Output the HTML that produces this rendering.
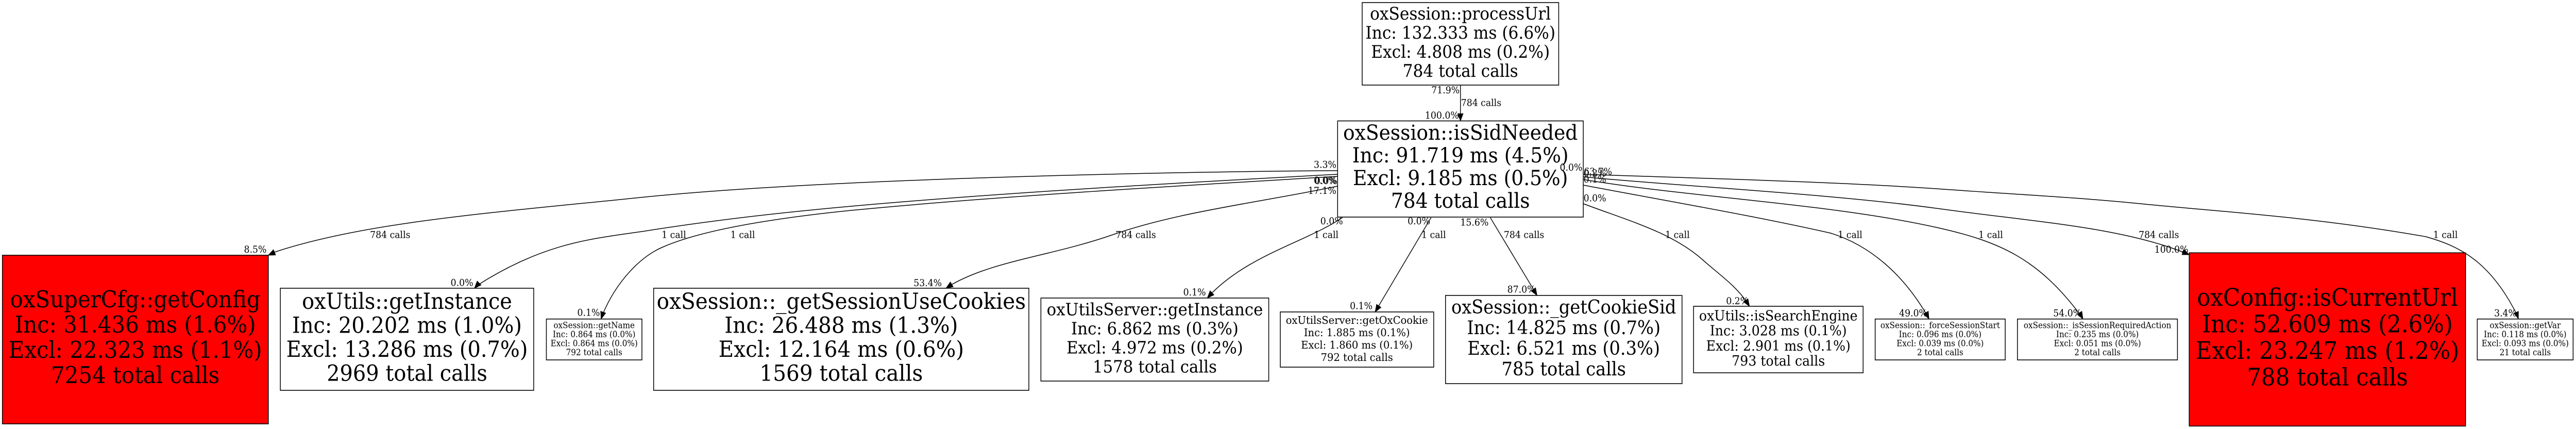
<!DOCTYPE html>
<html><head><meta charset="utf-8"><title>oxSession::isSidNeeded call graph</title>
<style>
html,body{margin:0;padding:0;background:#fff;width:100%;height:100%;overflow:hidden}
svg{display:block;width:100vw;height:100vh}
text{font-family:"DejaVu Serif","Liberation Serif",serif;fill:#000;text-anchor:middle}
.e{font-size:18.5px}
.s{font-size:16.3px}
rect{stroke:#000;stroke-width:1.6;fill:#fff}
path{fill:none;stroke:#000;stroke-width:1.5}
polygon{fill:#000;stroke:#000;stroke-width:1}
</style></head><body>
<svg xmlns="http://www.w3.org/2000/svg" viewBox="0 0 5348 832" preserveAspectRatio="none">

<!-- edges -->
<path d="M3032 165 L3032 222"/>
<path d="M2777 331 C2400 333 1700 348 1340 382 C1030 412 760 430 570 489"/>
<path d="M2777 338 C2500 352 2100 372 1767 400 C1600 414 1460 430 1340 448 C1230 463 1130 470 990 554"/>
<path d="M2777 342 C2500 358 2100 378 1767 408 C1620 422 1460 444 1374 480 C1330 498 1280 545 1251 610"/>
<path d="M2777 361 C2620 392 2450 410 2314 454 C2180 498 2060 505 1970 555"/>
<path d="M2787 422 C2710 470 2590 495 2510 574"/>
<path d="M2971 422 L2858 600"/>
<path d="M3094 422 L3188 568"/>
<path d="M3287 395 C3380 428 3470 450 3535 504 C3570 533 3605 555 3628 588"/>
<path d="M3287 359 C3450 388 3650 420 3800 452 C3880 475 3950 530 4001 612"/>
<path d="M3287 348 C3500 382 3800 395 4020 441 C4150 468 4230 500 4320 612"/>
<path d="M3287 343 C3500 362 3800 376 4020 404 C4220 430 4400 440 4535 490"/>
<path d="M3287 338 C3500 345 3800 352 4020 366 C4200 378 4300 382 4443 395 C4600 410 4800 420 5036 459 C5110 478 5170 510 5223 606"/>

<polygon points="3032,234.5 3026.5,220.5 3037.5,220.5"/>
<polygon points="557,495 572.1,494.5 567.7,484.3"/>
<polygon points="985,559 998.7,552.7 990.7,545.1"/>
<polygon points="1248,618.7 1257.4,607.1 1247,603.7"/>
<polygon points="1964,559 1978.8,556.3 1973,546.9"/>
<polygon points="2506.5,578 2520.3,571.8 2512.3,564"/>
<polygon points="2855,605 2867.1,596.1 2857.9,590.3"/>
<polygon points="3191,573 3188,558.2 3178.8,564.2"/>
<polygon points="3632,594 3628.9,579.4 3619.7,585.4"/>
<polygon points="4004.7,618.7 4003.3,603.7 3993.5,608.7"/>
<polygon points="4324.3,618.7 4322.1,603.8 4312.5,609.3"/>
<polygon points="4545,494 4534,483.7 4530,493.9"/>
<polygon points="5228.3,618.5 5219.5,607.5 5228.5,604"/>

<!-- nodes -->
<rect x="2828" y="5" width="408" height="160"/>
<g font-size="33.4">
<text x="3032" y="38">oxSession::processUrl</text>
<text x="3032" y="75">Inc: 132.333 ms (6.6%)</text>
<text x="3032" y="112">Excl: 4.808 ms (0.2%)</text>
<text x="3032" y="149">784 total calls</text>
</g>

<rect x="2777" y="234.5" width="510" height="186.5"/>
<g font-size="40.2">
<text x="3032" y="271">oxSession::isSidNeeded</text>
<text x="3032" y="315">Inc: 91.719 ms (4.5%)</text>
<text x="3032" y="359">Excl: 9.185 ms (0.5%)</text>
<text x="3032" y="403">784 total calls</text>
</g>

<rect x="5" y="495" width="552" height="327" style="fill:#ff0000"/>
<g font-size="44.8">
<text x="281" y="596">oxSuperCfg::getConfig</text>
<text x="281" y="645">Inc: 31.436 ms (1.6%)</text>
<text x="281" y="694">Excl: 22.323 ms (1.1%)</text>
<text x="281" y="743">7254 total calls</text>
</g>

<rect x="582" y="559" width="526" height="198"/>
<g font-size="42.7">
<text x="845" y="599">oxUtils::getInstance</text>
<text x="845" y="645.5">Inc: 20.202 ms (1.0%)</text>
<text x="845" y="692">Excl: 13.286 ms (0.7%)</text>
<text x="845" y="738.5">2969 total calls</text>
</g>

<rect x="1134.3" y="618.7" width="198.4" height="79.3"/>
<g class="s">
<text x="1233.5" y="636.5">oxSession::getName</text>
<text x="1233.5" y="654">Inc: 0.864 ms (0.0%)</text>
<text x="1233.5" y="671.5">Excl: 0.864 ms (0.0%)</text>
<text x="1233.5" y="689">792 total calls</text>
</g>

<rect x="1357" y="559" width="779" height="198"/>
<g font-size="43.4">
<text x="1746.5" y="599">oxSession::_getSessionUseCookies</text>
<text x="1746.5" y="645.5">Inc: 26.488 ms (1.3%)</text>
<text x="1746.5" y="692">Excl: 12.164 ms (0.6%)</text>
<text x="1746.5" y="738.5">1569 total calls</text>
</g>

<rect x="2161" y="578" width="473" height="161"/>
<g font-size="33">
<text x="2397.5" y="611.5">oxUtilsServer::getInstance</text>
<text x="2397.5" y="648.5">Inc: 6.862 ms (0.3%)</text>
<text x="2397.5" y="685.5">Excl: 4.972 ms (0.2%)</text>
<text x="2397.5" y="722.5">1578 total calls</text>
</g>

<rect x="2658" y="605" width="318.5" height="107"/>
<g font-size="20.9">
<text x="2817" y="628.2">oxUtilsServer::getOxCookie</text>
<text x="2817" y="652.1">Inc: 1.885 ms (0.1%)</text>
<text x="2817" y="676">Excl: 1.860 ms (0.1%)</text>
<text x="2817" y="699.9">792 total calls</text>
</g>

<rect x="3001" y="573" width="491" height="171"/>
<g font-size="36">
<text x="3246.5" y="607.8">oxSession::_getCookieSid</text>
<text x="3246.5" y="647.8">Inc: 14.825 ms (0.7%)</text>
<text x="3246.5" y="687.8">Excl: 6.521 ms (0.3%)</text>
<text x="3246.5" y="727.8">785 total calls</text>
</g>

<rect x="3516" y="594" width="352" height="129"/>
<g font-size="27">
<text x="3692" y="621.3">oxUtils::isSearchEngine</text>
<text x="3692" y="650.6">Inc: 3.028 ms (0.1%)</text>
<text x="3692" y="679.9">Excl: 2.901 ms (0.1%)</text>
<text x="3692" y="709.2">793 total calls</text>
</g>

<rect x="3893" y="618.7" width="270" height="79.3"/>
<g class="s">
<text x="4028" y="636.5">oxSession::_forceSessionStart</text>
<text x="4028" y="654">Inc: 0.096 ms (0.0%)</text>
<text x="4028" y="671.5">Excl: 0.039 ms (0.0%)</text>
<text x="4028" y="689">2 total calls</text>
</g>

<rect x="4188.4" y="618.7" width="332.2" height="79.3"/>
<g class="s">
<text x="4354.5" y="636.5">oxSession::_isSessionRequiredAction</text>
<text x="4354.5" y="654">Inc: 0.235 ms (0.0%)</text>
<text x="4354.5" y="671.5">Excl: 0.051 ms (0.0%)</text>
<text x="4354.5" y="689">2 total calls</text>
</g>

<rect x="4545" y="490.3" width="573.7" height="336" style="fill:#ff0000"/>
<g font-size="46.6">
<text x="4832" y="593">oxConfig::isCurrentUrl</text>
<text x="4832" y="644.7">Inc: 52.609 ms (2.6%)</text>
<text x="4832" y="696.2">Excl: 23.247 ms (1.2%)</text>
<text x="4832" y="747.7">788 total calls</text>
</g>

<rect x="5143" y="618.7" width="199" height="79.3"/>
<g class="s">
<text x="5242.5" y="636.5">oxSession::getVar</text>
<text x="5242.5" y="654">Inc: 0.118 ms (0.0%)</text>
<text x="5242.5" y="671.5">Excl: 0.093 ms (0.0%)</text>
<text x="5242.5" y="689">21 total calls</text>
</g>

<!-- edge labels -->
<g class="e">
<text x="3075" y="205.5">784 calls</text>
<text x="810" y="461.5">784 calls</text>
<text x="1399" y="461.5">1 call</text>
<text x="1542" y="461.5">1 call</text>
<text x="2358" y="461.5">784 calls</text>
<text x="2753.5" y="461.5">1 call</text>
<text x="2976.5" y="461.5">1 call</text>
<text x="3164" y="461.5">784 calls</text>
<text x="3482.5" y="461.5">1 call</text>
<text x="3841" y="461.5">1 call</text>
<text x="4133" y="461.5">1 call</text>
<text x="4482" y="461.5">784 calls</text>
<text x="5077" y="461.5">1 call</text>

<text x="3001" y="181">71.9%</text>
<text x="2993.6" y="230">100.0%</text>
<text x="530" y="490">8.5%</text>
<text x="959" y="554.6">0.0%</text>
<text x="1222" y="612.7">0.1%</text>
<text x="1926" y="555">53.4%</text>
<text x="2480" y="573">0.1%</text>
<text x="2826" y="599.7">0.1%</text>
<text x="2751" y="325.7">3.3%</text>
<text x="2751" y="356">0.0%</text>
<text x="2753" y="357">0.0%</text>
<text x="2745" y="376">17.1%</text>
<text x="2764.6" y="435">0.0%</text>
<text x="2945.8" y="435">0.0%</text>
<text x="3061" y="437.5">15.6%</text>
<text x="3261.7" y="331">0.0%</text>
<text x="3317.5" y="339">63.7%</text>
<text x="3311" y="342">0.2%</text>
<text x="3311" y="354">0.1%</text>
<text x="3311" y="390.7">0.0%</text>
<text x="3158.6" y="567.5">87.0%</text>
<text x="3607" y="590">0.2%</text>
<text x="3972" y="613.4">49.0%</text>
<text x="4292" y="613.4">54.0%</text>
<text x="4508" y="490">100.0%</text>
<text x="5201.5" y="613.4">3.4%</text>
</g>
</svg>
</body></html>
